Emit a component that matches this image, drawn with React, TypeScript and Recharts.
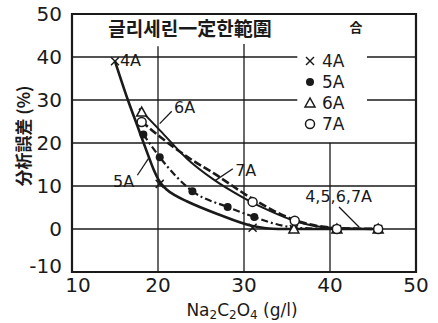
import React from 'react';
import {
  ComposedChart, Line, Scatter, XAxis, YAxis, ReferenceLine, ReferenceArea, ReferenceDot,
} from 'recharts';

// 측정점 (Na2C2O4 g/l, 분석오차 %)
const points4A = [
  { x: 15, y: 39 }, { x: 20.2, y: 10.5 }, { x: 31, y: 0.3 },
  { x: 35.8, y: 0 }, { x: 40.8, y: 0 }, { x: 45.6, y: 0 },
];
const points5A = [
  { x: 18.3, y: 22 }, { x: 20.2, y: 16.7 }, { x: 24, y: 8.8 }, { x: 28.1, y: 5.1 },
  { x: 31.2, y: 2.8 }, { x: 35.8, y: 0 }, { x: 40.8, y: 0 }, { x: 45.6, y: 0 },
];
const points6A = [
  { x: 18.1, y: 27.2 }, { x: 35.8, y: 0 }, { x: 40.8, y: 0 }, { x: 45.6, y: 0 },
];
const points7A = [
  { x: 18.1, y: 24.9 }, { x: 31, y: 6.3 }, { x: 35.9, y: 1.9 }, { x: 40.8, y: 0 }, { x: 45.6, y: 0 },
];

// 곡선
const curve4A = [
  { x: 15, y: 39 }, { x: 16.5, y: 30 }, { x: 17.6, y: 24 }, { x: 18.7, y: 18 },
  { x: 19.5, y: 13.8 }, { x: 20.2, y: 11 }, { x: 21, y: 9.2 }, { x: 22, y: 7.8 },
  { x: 23.4, y: 6.4 }, { x: 26.9, y: 3.5 }, { x: 31, y: 0.7 }, { x: 34, y: 0 }, { x: 46, y: 0 },
];
const curve5A = [
  { x: 18.3, y: 22 }, { x: 20.2, y: 16.7 }, { x: 24, y: 8.8 }, { x: 28.1, y: 5.1 },
  { x: 31.2, y: 2.8 }, { x: 34, y: 1 }, { x: 36, y: 0.3 }, { x: 41, y: 0 }, { x: 46, y: 0 },
];
const curve6A = [
  { x: 17.8, y: 28 }, { x: 20.2, y: 23 }, { x: 23.4, y: 16.3 }, { x: 26.4, y: 11.6 },
  { x: 30, y: 7.2 }, { x: 33, y: 4.2 }, { x: 36, y: 1.8 }, { x: 40, y: 0.3 }, { x: 46, y: 0 },
];
const curve7A = [
  { x: 18.1, y: 25 }, { x: 20.2, y: 21.5 }, { x: 23.4, y: 16.8 }, { x: 26.6, y: 12.8 },
  { x: 31, y: 7 }, { x: 36, y: 2 }, { x: 41, y: 0.2 }, { x: 46, y: 0 },
];

const xTicks = [10, 20, 30, 40, 50];
const yTicks = [-10, 0, 10, 20, 30, 40, 50];

const INK = '#1a1a1a';
const FONT = '"DejaVu Sans", sans-serif';

const CrossShape = (p: any) => (
  <g stroke={INK} strokeWidth={1.5}>
    <line x1={p.cx - 4} y1={p.cy - 4} x2={p.cx + 4} y2={p.cy + 4} />
    <line x1={p.cx - 4} y1={p.cy + 4} x2={p.cx + 4} y2={p.cy - 4} />
  </g>
);
const DotShape = (p: any) => <circle cx={p.cx} cy={p.cy} r={4} fill={INK} />;
const TriShape = (p: any) => (
  <polygon
    points={`${p.cx},${p.cy - 5} ${p.cx - 5},${p.cy + 4} ${p.cx + 5},${p.cy + 4}`}
    fill="#fff" stroke={INK} strokeWidth={1.5}
  />
);
const RingShape = (p: any) => <circle cx={p.cx} cy={p.cy} r={4.5} fill="#fff" stroke={INK} strokeWidth={1.5} />;

const XTick = (p: any) => {
  const v = p.payload.value;
  return (
    <text x={p.x + (v === 10 ? 6 : 0)} y={p.y + 12} textAnchor="middle" fontSize={20} fontFamily={FONT} fill={INK}>
      {v}
    </text>
  );
};
const YTick = (p: any) => {
  const v = p.payload.value;
  return (
    <text x={p.x - 2} y={p.y + (v === -10 ? 1 : 7)} textAnchor="end" fontSize={20} fontFamily={FONT} fill={INK}>
      {v}
    </text>
  );
};

const XLabel = (p: any) => {
  const vb = p.viewBox;
  return (
    <text x={vb.x + vb.width / 2 - 2} y={vb.y + 44} textAnchor="middle" fontSize={17} fontFamily={FONT} fill={INK}>
      Na<tspan fontSize={12} dy={3}>2</tspan><tspan dy={-3}>C</tspan><tspan fontSize={12} dy={3}>2</tspan>
      <tspan dy={-3}>O</tspan><tspan fontSize={12} dy={3}>4</tspan><tspan dy={-3}> (g/l)</tspan>
    </text>
  );
};
const YLabel = (p: any) => {
  const vb = p.viewBox;
  const cx = 22;
  const cy = vb.y + 122;
  return (
    <text x={cx} y={cy} transform={`rotate(-90 ${cx} ${cy})`} textAnchor="middle" dominantBaseline="central"
      fontSize={17} fontFamily={'"Noto Sans CJK JP", sans-serif'} fontWeight="bold" fill={INK}>
      分析誤差 (%)
    </text>
  );
};

const gridLines = [
  { a: { x: 10, y: 40 }, b: { x: 36.2, y: 40 } }, { a: { x: 44.3, y: 40 }, b: { x: 50, y: 40 } },
  { a: { x: 10, y: 30 }, b: { x: 36.2, y: 30 } }, { a: { x: 44.3, y: 30 }, b: { x: 50, y: 30 } },
  { a: { x: 10, y: 20 }, b: { x: 50, y: 20 } },
  { a: { x: 10, y: 10 }, b: { x: 50, y: 10 } },
  { a: { x: 10, y: 0 }, b: { x: 50, y: 0 } },
  { a: { x: 20, y: -10 }, b: { x: 20, y: 42.5 } },
  { a: { x: 30, y: -10 }, b: { x: 30, y: 43 } },
  { a: { x: 40, y: -10 }, b: { x: 40, y: 20 } },
];

const leaders = [
  { a: { x: 21.6, y: 27.4 }, b: { x: 20.2, y: 24.5 } },
  { a: { x: 17.6, y: 12.5 }, b: { x: 19, y: 16.7 } },
  { a: { x: 28.7, y: 14 }, b: { x: 26.6, y: 11.2 } },
  { a: { x: 41.05, y: 5.1 }, b: { x: 43.4, y: 0.4 } },
];

const notes = [
  { x: 16.8, y: 39.2, text: '4A' },
  { x: 23.1, y: 28.3, text: '6A' },
  { x: 16, y: 11, text: '5A' },
  { x: 30.2, y: 13.6, text: '7A' },
  { x: 41, y: 7.6, text: '4,5,6,7A' },
];

const NoteLabel = (text: string) => (p: any) => {
  const vb = p.viewBox;
  return (
    <text x={vb.x} y={vb.y} textAnchor="middle" dominantBaseline="central" fontSize={16} fontFamily={FONT} fill={INK}>
      {text}
    </text>
  );
};

const legendItems = [
  { label: '4A', Shape: CrossShape },
  { label: '5A', Shape: DotShape },
  { label: '6A', Shape: TriShape },
  { label: '7A', Shape: RingShape },
];

export default function App() {
  return (
    <div style={{ position: 'absolute', left: 0, top: 0, width: 438, height: 323, background: '#fff' }}>
      <ComposedChart width={438} height={323} margin={{ top: 14, right: 22, bottom: 0, left: 0 }}>
        <XAxis type="number" dataKey="x" domain={[10, 50]} ticks={xTicks} height={51}
          axisLine={false} tickLine={false} tick={<XTick />} label={<XLabel />} allowDataOverflow />
        <YAxis type="number" dataKey="y" domain={[-10, 50]} ticks={yTicks} width={72}
          axisLine={false} tickLine={false} tick={<YTick />} label={<YLabel />} allowDataOverflow />

        {gridLines.map((g, i) => (
          <ReferenceLine key={'g' + i} segment={[g.a, g.b]} stroke={INK} strokeWidth={1.3} />
        ))}
        <ReferenceArea x1={10} x2={50} y1={-10} y2={50} fill="none" fillOpacity={0} stroke={INK} strokeWidth={2.2} />

        <Line data={curve4A} dataKey="y" type="monotone" stroke={INK} strokeWidth={2.6} dot={false} isAnimationActive={false} />
        <Line data={curve5A} dataKey="y" type="monotone" stroke={INK} strokeWidth={2.2} strokeDasharray="7 3 2 3" dot={false} isAnimationActive={false} />
        <Line data={curve6A} dataKey="y" type="monotone" stroke={INK} strokeWidth={2} dot={false} isAnimationActive={false} />
        <Line data={curve7A} dataKey="y" type="monotone" stroke={INK} strokeWidth={2.6} strokeDasharray="8 3" dot={false} isAnimationActive={false} />

        {leaders.map((g, i) => (
          <ReferenceLine key={'l' + i} segment={[g.a, g.b]} stroke={INK} strokeWidth={1.3} />
        ))}

        <Scatter data={points4A} shape={CrossShape} isAnimationActive={false} />
        <Scatter data={points5A} shape={DotShape} isAnimationActive={false} />
        <Scatter data={points6A} shape={TriShape} isAnimationActive={false} />
        <Scatter data={points7A} shape={RingShape} isAnimationActive={false} />

        {notes.map((n, i) => (
          <ReferenceDot key={'n' + i} x={n.x} y={n.y} r={0} fill="none" stroke="none" label={NoteLabel(n.text)} />
        ))}

        <g>
          <text x={190} y={36} textAnchor="middle" fontSize={19} fontWeight="bold"
            fontFamily={'"Noto Sans CJK KR", sans-serif'} fill={INK}>
            글리세린一定한範圍
          </text>
          <text x={356} y={32} textAnchor="middle" fontSize={13} fontWeight="bold"
            fontFamily={'"Noto Sans CJK KR", sans-serif'} fill={INK}>
            合
          </text>
          {legendItems.map((it, i) => (
            <g key={it.label}>
              <it.Shape cx={310} cy={61 + i * 21} />
              <text x={322} y={67 + i * 21} fontSize={17} fontFamily={FONT} fill={INK}>{it.label}</text>
            </g>
          ))}
        </g>
      </ComposedChart>
    </div>
  );
}
